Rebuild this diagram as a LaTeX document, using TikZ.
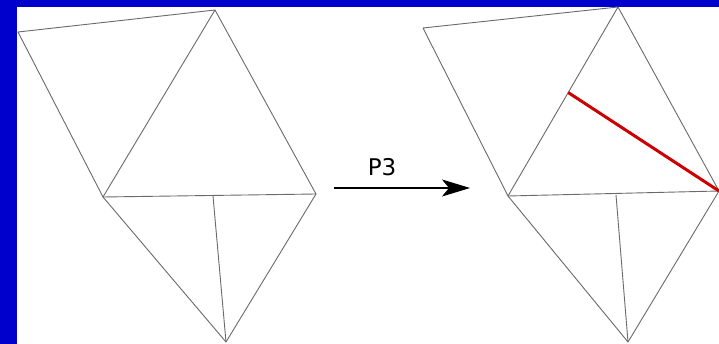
\documentclass[tikz,border=0pt]{standalone}
\usepackage{fontspec}
\setmainfont{DejaVu Sans}
\usetikzlibrary{arrows.meta,calc}
\definecolor{bgblue}{HTML}{0000CC}
\definecolor{edgegray}{HTML}{6A6A6A}
\definecolor{redline}{HTML}{CC0000}
\begin{document}
\begin{tikzpicture}[x=1pt,y=-1pt,
  mesh/.style={draw=edgegray,line width=0.9pt,line join=round},
  cut/.style={draw=redline,line width=3pt},
  maparrow/.style={draw=black,line width=1.2pt,-{Stealth[length=28pt,width=17pt,inset=7pt]}}]
\useasboundingbox (0,0) rectangle (719,344);
\fill[bgblue] (0,0) rectangle (719,344);
\fill[white] (17,7) rectangle (719,344);
% left mesh
\coordinate (a) at (18,32);
\coordinate (b) at (215,10);
\coordinate (c) at (103,197);
\coordinate (d) at (316,194);
\coordinate (g) at (213,196);
\coordinate (f) at (226,342);
\draw[mesh] (a) -- (b) -- (d) -- (c) -- (a);
\draw[mesh] (b) -- (c) -- (f) -- (d);
\draw[mesh] (g) -- (f);
% right mesh
\coordinate (a2) at (423,28);
\coordinate (b2) at (618,7);
\coordinate (c2) at (508,196);
\coordinate (d2) at (719,191);
\coordinate (g2) at (616,195);
\coordinate (f2) at (628,342);
\coordinate (p2) at ($(b2)!0.4526!(c2)$);
\draw[mesh] (a2) -- (b2) -- (d2) -- (c2) -- (a2);
\draw[mesh] (b2) -- (c2) -- (f2) -- (d2);
\draw[mesh] (g2) -- (f2);
\draw[cut] (p2) -- (d2);
% arrow
\coordinate (s) at (334,188);
\coordinate (e) at (470,188);
\draw[maparrow] (s) -- (e);
\node[font=\fontsize{23}{27}\selectfont,anchor=base] (lbl) at (382,176) {P3};
\end{tikzpicture}
\end{document}
